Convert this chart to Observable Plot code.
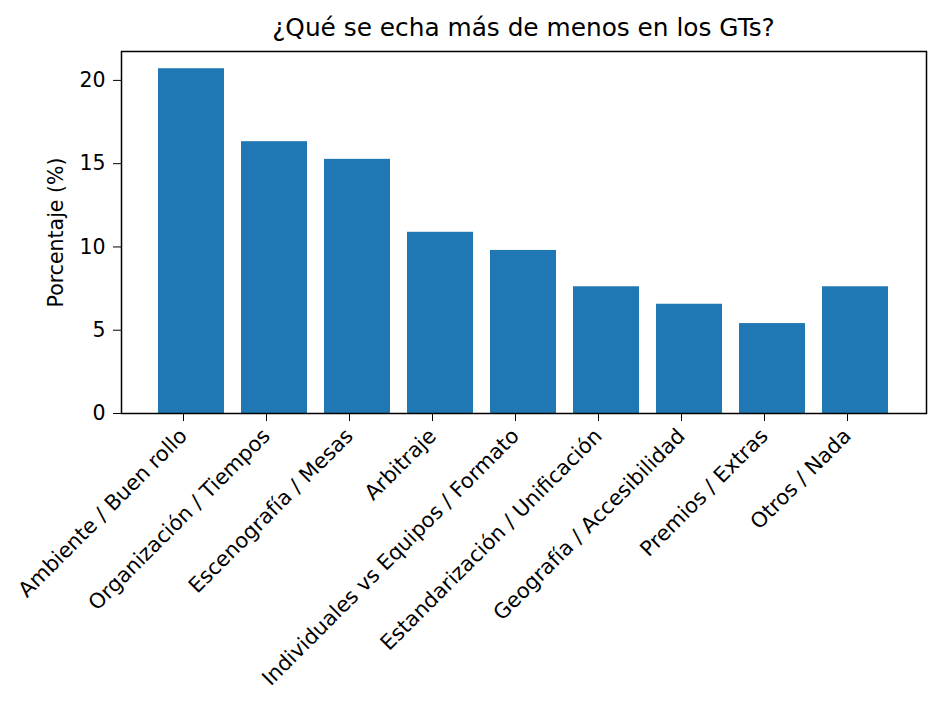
<!DOCTYPE html>
<html>
<head>
<meta charset="utf-8">
<script src="https://cdn.jsdelivr.net/npm/d3@7"></script>
<script src="https://cdn.jsdelivr.net/npm/@observablehq/plot@0.6"></script>
<style>
  html, body { margin: 0; padding: 0; background: #fff; }
  #wrap { position: relative; width: 940px; height: 706px; font-family: "DejaVu Sans", sans-serif; }
  #title { position: absolute; left: 121px; width: 805px; top: 13px; text-align: center;
           font-size: 24.8px; line-height: 29px; color: #000; font-family: "DejaVu Sans", sans-serif; white-space: nowrap; }
  #chart { position: absolute; left: 0; top: 0; }
</style>
</head>
<body>
<div id="wrap">
  <div id="chart"></div>
  <div id="title">¿Qué se echa más de menos en los GTs?</div>
</div>
<script>
const categories = [
  "Ambiente / Buen rollo",
  "Organización / Tiempos",
  "Escenografía / Mesas",
  "Arbitraje",
  "Individuales vs Equipos / Formato",
  "Estandarización / Unificación",
  "Geografía / Accesibilidad",
  "Premios / Extras",
  "Otros / Nada"
];
const percentages = [20.70, 16.32, 15.26, 10.88, 9.79, 7.61, 6.56, 5.40, 7.61];
const yTicks = [0, 5, 10, 15, 20];

const data = categories.map((c, i) => ({category: c, value: percentages[i]}));
const ymax = d3.max(percentages) * 1.05;

const chart = Plot.plot({
  width: 940,
  height: 706,
  marginTop: 51,
  marginLeft: 121,
  marginRight: 14,
  marginBottom: 293,
  style: {fontFamily: "DejaVu Sans, sans-serif", color: "#000", background: "#fff"},
  x: {type: "band", domain: categories, paddingInner: 0.2, paddingOuter: 0.434},
  y: {domain: [0, ymax]},
  marks: [
    Plot.barY(data, {x: "category", y: "value", fill: "#1f77b4"}),
    Plot.axisY({
      ticks: yTicks, tickSize: 8, tickPadding: 8, fontSize: 20.5,
      label: "Porcentaje (%)", labelAnchor: "center", labelArrow: "none", labelOffset: 73,
      stroke: "#000", fill: "#000"
    }),
    Plot.axisX({
      tickRotate: -45, tickSize: 8, tickPadding: 11, dx: -8, fontSize: 21,
      label: null, stroke: "#000", fill: "#000"
    }),
    Plot.frame({stroke: "#000", strokeWidth: 1.5})
  ]
});
document.getElementById("chart").appendChild(chart);
</script>
</body>
</html>
